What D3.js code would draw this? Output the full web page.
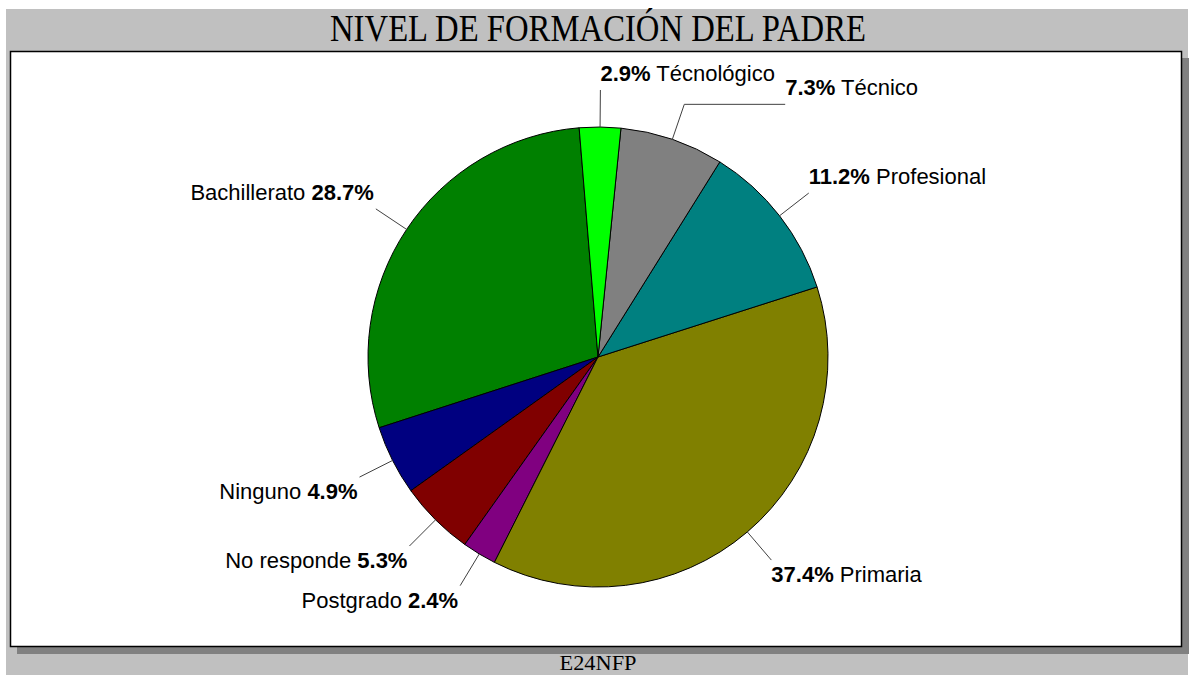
<!DOCTYPE html>
<html><head><meta charset="utf-8">
<script src="https://cdn.jsdelivr.net/npm/d3@7"></script>
<style>body{margin:0;background:#fff}svg{display:block}</style>
</head><body>
<svg id="c" width="1193" height="675"></svg>
<script>
const categories = ["Bachillerato","Ninguno","No responde","Postgrado","Primaria","Profesional","Técnico","Técnológico"];
const values = [28.7,4.9,5.3,2.4,37.4,11.2,7.3,2.9];
const colors = ["#008000","#000080","#800000","#800080","#808000","#008080","#808080","#00ff00"];
const title = "NIVEL DE FORMACIÓN DEL PADRE";
const footer = "E24NFP";

const W = 1193, H = 675;
const svg = d3.select("#c");
svg.append("rect").attr("x",6).attr("y",9).attr("width",1182).attr("height",H-9).attr("fill","#c0c0c0");
svg.append("rect").attr("x",17).attr("y",58).attr("width",1172).attr("height",596).attr("fill","#808080");
svg.append("rect").attr("x",10.5).attr("y",51.5).attr("width",1171).attr("height",595).attr("fill","#fff").attr("stroke","#000").attr("stroke-width",1.5);

svg.append("text").attr("x",598).attr("y",41).attr("text-anchor","middle")
  .attr("font-family","Liberation Serif, Times New Roman, serif").attr("font-size",38)
  .attr("textLength",536).attr("lengthAdjust","spacingAndGlyphs").attr("fill","#000").text(title);
svg.append("text").attr("x",598).attr("y",670).attr("text-anchor","middle")
  .attr("font-family","Liberation Serif, Times New Roman, serif").attr("font-size",22)
  .attr("textLength",77).attr("lengthAdjust","spacingAndGlyphs").attr("fill","#000").text(footer);

const cx = 598, cy = 357, r = 230, rL = 267;
const startOff = -4.7 * Math.PI / 180;
const data = categories.map((c,i)=>({c, v:values[i], col:colors[i]}));
const pie = d3.pie().value(d=>d.v).sort(null)
  .startAngle(startOff).endAngle(startOff - 2*Math.PI);
const arcs = pie(data);
const arc = d3.arc().innerRadius(0).outerRadius(r);
const g = svg.append("g").attr("transform",`translate(${cx},${cy})`);
g.selectAll("path.s").data(arcs).join("path").attr("class","s")
  .attr("d", d => arc({startAngle: Math.min(d.startAngle,d.endAngle), endAngle: Math.max(d.startAngle,d.endAngle)}))
  .attr("fill", d=>d.data.col).attr("stroke","#000").attr("stroke-width",1);

// labels
const font = "Liberation Sans, Arial, sans-serif";
const fs = 22;
const meas = svg.append("text").attr("font-family",font).attr("font-size",fs).attr("visibility","hidden");
function textW(str, bold){ meas.attr("font-weight", bold?"bold":"normal").text(str); return meas.node().getComputedTextLength(); }
const labs = arcs.map(d=>{
  const a = (d.startAngle + d.endAngle)/2;
  const x0 = Math.sin(a)*r, y0 = -Math.cos(a)*r;
  const x1 = Math.sin(a)*rL, y1 = -Math.cos(a)*rL;
  const right = Math.sin(a) >= -0.05;
  const pct = d.data.v.toFixed(1)+"%";
  const w = textW(pct,true) + textW(" "+d.data.c,false);
  return {d, a, x0, y0, x1, y1, right, pct, w, tx:x1, by: y1 < 0 ? y1-9 : y1+22};
});
const rightLabs = labs.filter(l=>l.right).sort((p,q)=>p.by-q.by);
for (let i=1;i<rightLabs.length;i++){
  const p = rightLabs[i-1], q = rightLabs[i];
  if (q.by - p.by < 22 && q.tx < p.tx + p.w + 16) q.tx = p.tx + p.w + 16;
}
labs.forEach(l=>{
  const pts = [[l.x0,l.y0],[l.x1,l.y1]];
  if (l.tx !== l.x1) pts.push([l.tx, l.y1]);
  g.append("path").attr("d", d3.line()(pts)).attr("fill","none").attr("stroke","#404040").attr("stroke-width",1);
  const t = g.append("text").attr("x", l.tx + (l.right?0:-2)).attr("y", l.by)
    .attr("font-family",font).attr("font-size",fs).attr("fill","#000")
    .attr("text-anchor", l.right ? "start" : "end");
  if (l.right){
    t.append("tspan").attr("font-weight","bold").text(l.pct);
    t.append("tspan").text(" "+l.d.data.c);
  } else {
    t.append("tspan").text(l.d.data.c+" ");
    t.append("tspan").attr("font-weight","bold").text(l.pct);
  }
});
</script>
</body></html>
